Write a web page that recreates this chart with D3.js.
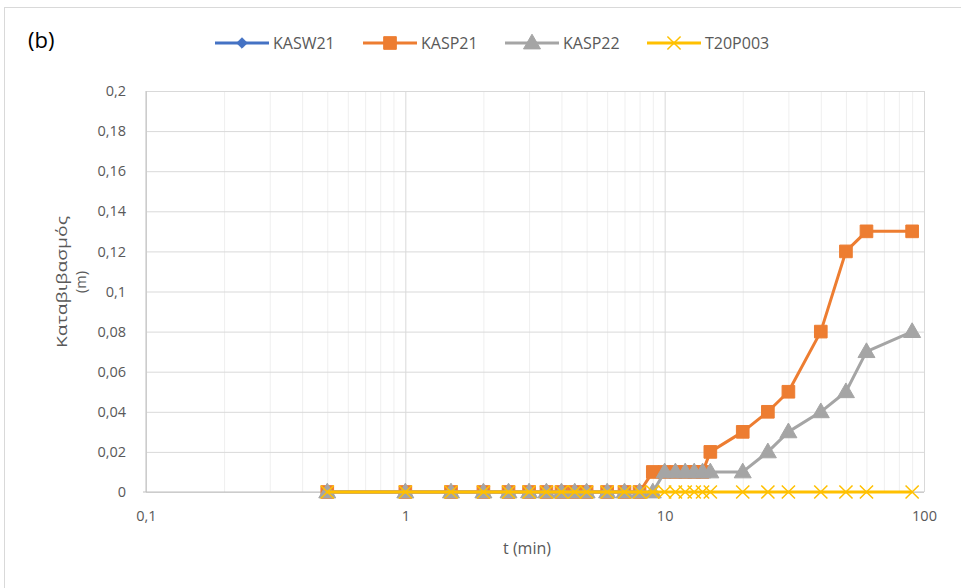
<!DOCTYPE html>
<html><head><meta charset="utf-8">
<script src="https://cdn.jsdelivr.net/npm/d3@7"></script>
<style>body{margin:0;background:#fff}svg{display:block}text{font-family:"Open Sans",sans-serif}</style>
</head><body>
<svg id="c" width="961" height="588"></svg>
<script>
// ---- data ----
const seriesNames = ["KASW21","KASP21","KASP22","T20P003"];
const seriesColors = ["#4472C4","#ED7D31","#A5A5A5","#FFC000"];
const seriesMarkers = ["diamond","square","triangle","x"];
const tKASW21 = [0.5,1,1.5,2,2.5,3,3.5,4,4.5,5,6,7,8];
const vKASW21 = [0,0,0,0,0,0,0,0,0,0,0,0,0];
const tKASP21 = [0.5,1,1.5,2,2.5,3,3.5,4,4.5,5,6,7,8,9,10,11,12,13,14,15,20,25,30,40,50,60,90];
const vKASP21 = [0,0,0,0,0,0,0,0,0,0,0,0,0,0.01,0.01,0.01,0.01,0.01,0.01,0.02,0.03,0.04,0.05,0.08,0.12,0.13,0.13];
const tKASP22 = [0.5,1,1.5,2,2.5,3,3.5,4,4.5,5,6,7,8,9,10,11,12,13,14,15,20,25,30,40,50,60,90];
const vKASP22 = [0,0,0,0,0,0,0,0,0,0,0,0,0,0,0.01,0.01,0.01,0.01,0.01,0.01,0.01,0.02,0.03,0.04,0.05,0.07,0.08];
const tT20P003 = [0.5,1,1.5,2,2.5,3,3.5,4,4.5,5,6,7,8,9,10,11,12,13,14,15,20,25,30,40,50,60,90];
const vT20P003 = [0,0,0,0,0,0,0,0,0,0,0,0,0,0,0,0,0,0,0,0,0,0,0,0,0,0,0];
const yTicks = [0,0.02,0.04,0.06,0.08,0.1,0.12,0.14,0.16,0.18,0.2];
const xTicks = [0.1,1,10,100];
const xMinorTicks = [0.2,0.3,0.4,0.5,0.6,0.7,0.8,0.9,2,3,4,5,6,7,8,9,20,30,40,50,60,70,80,90];
const yTitle = ["Καταβιβασμός","(m)"];
const xTitle = "t (min)";
const panelLabel = "(b)";

// ---- chart ----
const svg = d3.select("#c");
const L=146, R=924, T=91, B=492;
const x = d3.scaleLog().domain([0.1,100]).range([L,R]);
const y = d3.scaleLinear().domain([0,0.2]).range([B,T]);
const fmt = v => String(v).replace(".", ",");

svg.append("rect").attr("x",4.5).attr("y",7.5).attr("width",970).attr("height",600)
  .attr("fill","#fff").attr("stroke","#d9d9d9");

// minor vertical grid
svg.append("g").attr("transform",`translate(0,${B})`)
  .call(d3.axisBottom(x).tickValues(xMinorTicks).tickSize(-(B-T)).tickFormat(""))
  .call(g=>g.select(".domain").remove())
  .call(g=>g.selectAll("line").attr("stroke","#efefef").attr("stroke-width",1));
// major vertical grid
svg.append("g").attr("transform",`translate(0,${B})`)
  .call(d3.axisBottom(x).tickValues(xTicks).tickSize(-(B-T)).tickFormat(""))
  .call(g=>g.select(".domain").remove())
  .call(g=>g.selectAll("line").attr("stroke","#d9d9d9").attr("stroke-width",1));
// horizontal grid
svg.append("g").attr("transform",`translate(${L},0)`)
  .call(d3.axisLeft(y).tickValues(yTicks).tickSize(-(R-L)).tickFormat(""))
  .call(g=>g.select(".domain").remove())
  .call(g=>g.selectAll("line").attr("stroke","#d9d9d9").attr("stroke-width",1));
// axis lines
svg.append("line").attr("x1",L).attr("x2",L).attr("y1",T).attr("y2",B).attr("stroke","#bfbfbf");
svg.append("line").attr("x1",L-3).attr("x2",R).attr("y1",B).attr("y2",B).attr("stroke","#bfbfbf");

// y tick labels
svg.append("g").attr("transform",`translate(${L-17},0)`)
  .call(d3.axisLeft(y).tickValues(yTicks).tickSize(0).tickFormat(fmt))
  .call(g=>g.select(".domain").remove())
  .call(g=>g.selectAll("text").attr("fill","#595959").attr("font-size","14.5px").attr("font-family","Open Sans"));
// x tick labels
svg.append("g").attr("transform",`translate(0,${B+16})`)
  .call(d3.axisBottom(x).tickValues(xTicks).tickSize(0).tickFormat(fmt))
  .call(g=>g.select(".domain").remove())
  .call(g=>g.selectAll("text").attr("fill","#595959").attr("font-size","14.5px").attr("font-family","Open Sans"));

// titles
svg.append("text").attr("x",527).attr("y",554).attr("text-anchor","middle")
  .attr("fill","#595959").attr("font-size","16px").text(xTitle);
const yt = svg.append("text").attr("transform","translate(67,282) rotate(-90)")
  .attr("text-anchor","middle").attr("fill","#595959").attr("font-size","14.5px");
yt.append("tspan").attr("x",0).attr("dy",0).attr("textLength",132).attr("lengthAdjust","spacingAndGlyphs").text(yTitle[0]);
yt.append("tspan").attr("x",0).attr("dy",19).text(yTitle[1]);
svg.append("text").attr("x",28).attr("y",48).attr("fill","#000").attr("font-size","22px").text(panelLabel);

// series
const series = [
  {t:tKASW21, v:vKASW21},
  {t:tKASP21, v:vKASP21},
  {t:tKASP22, v:vKASP22},
  {t:tT20P003, v:vT20P003}
];
const sym = {
  diamond: d3.symbol().type(d3.symbolDiamond2).size(70),
  square: d3.symbol().type(d3.symbolSquare).size(160),
  triangle: d3.symbol().type(d3.symbolTriangle).size(125),
  x: d3.symbol().type(d3.symbolX).size(115)
};
function drawMarker(g, type, color){
  const p = g.append("path").attr("d", sym[type]());
  if(type==="x") p.attr("fill","none").attr("stroke",color).attr("stroke-width",1.5);
  else p.attr("fill",color).attr("stroke",color).attr("stroke-width",1);
  return p;
}
const line = d3.line().x(d=>x(d[0])).y(d=>y(d[1]));
series.forEach((s,i)=>{
  const pts = s.t.map((t,k)=>[t,s.v[k]]);
  const g = svg.append("g");
  g.append("path").attr("d",line(pts)).attr("fill","none")
    .attr("stroke",seriesColors[i]).attr("stroke-width",3).attr("stroke-linejoin","round");
  pts.forEach(p=>{
    const mg = g.append("g").attr("transform",`translate(${x(p[0])},${y(p[1])+(seriesMarkers[i]==="triangle"?1:0)})`);
    drawMarker(mg, seriesMarkers[i], seriesColors[i]);
  });
});

// legend
const legX = [215,363,505,647];
seriesNames.forEach((n,i)=>{
  const g = svg.append("g").attr("transform",`translate(${legX[i]},43)`);
  g.append("line").attr("x1",0).attr("x2",54).attr("stroke",seriesColors[i]).attr("stroke-width",3);
  const mg = g.append("g").attr("transform",`translate(27,${seriesMarkers[i]==="triangle"?1:0})`);
  drawMarker(mg, seriesMarkers[i], seriesColors[i]);
  g.append("text").attr("x",58).attr("y",6).attr("fill","#595959").attr("font-size","16px").text(n);
});
</script>
</body></html>
